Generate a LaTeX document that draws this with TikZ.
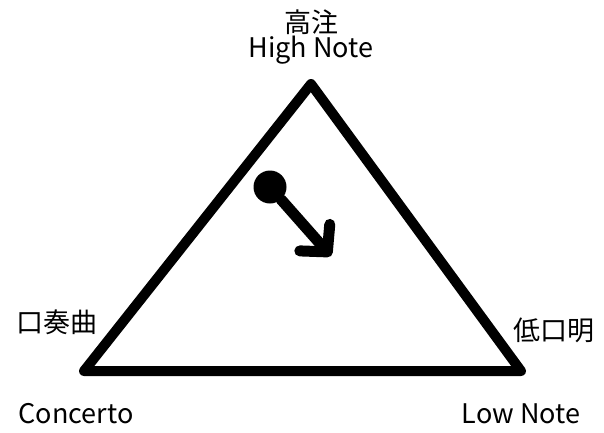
\documentclass[tikz,border=0pt]{standalone}
\usepackage{fontspec}
\setmainfont{Noto Sans CJK JP}
\usetikzlibrary{arrows.meta}
\tikzset{
    tri edge/.style={line width=10pt, line join=round, line cap=round},
    tri label/.style={font=\fontsize{27}{29}\selectfont, inner sep=0pt},
    state dot/.style={circle, fill=black, minimum size=33pt, inner sep=0pt},
    move arrow/.style={line width=11pt, line cap=round,
        -{Straight Barb[round, length=19pt, width=40pt]}},
}
\begin{document}
\begin{tikzpicture}[x=1pt, y=-1pt]
    \useasboundingbox (0,0) rectangle (604,432);
    % Corners
    \coordinate (top) at (311, 84);
    \coordinate (left) at (84, 371);
    \coordinate (right) at (521, 371);
    \draw[tri edge] (top) -- (right) -- (left) -- cycle;
    % Corner labels
    \node[tri label] (topcn) at (311, 22) {高注};
    \node[tri label] (topen) at (311, 50) {High Note};
    \node[tri label] (leftcn) at (57, 322) {口奏曲};
    \node[tri label] (leften) at (76, 414) {Concerto};
    \node[tri label] (rightcn) at (554, 330) {低口明};
    \node[tri label] (righten) at (521, 414) {Low Note};
    % Current state and its drift
    \node[state dot] (dot) at (270, 187) {};
    \coordinate (drift) at (331, 256);
    \draw[move arrow] (dot) -- (drift);
\end{tikzpicture}
\end{document}
